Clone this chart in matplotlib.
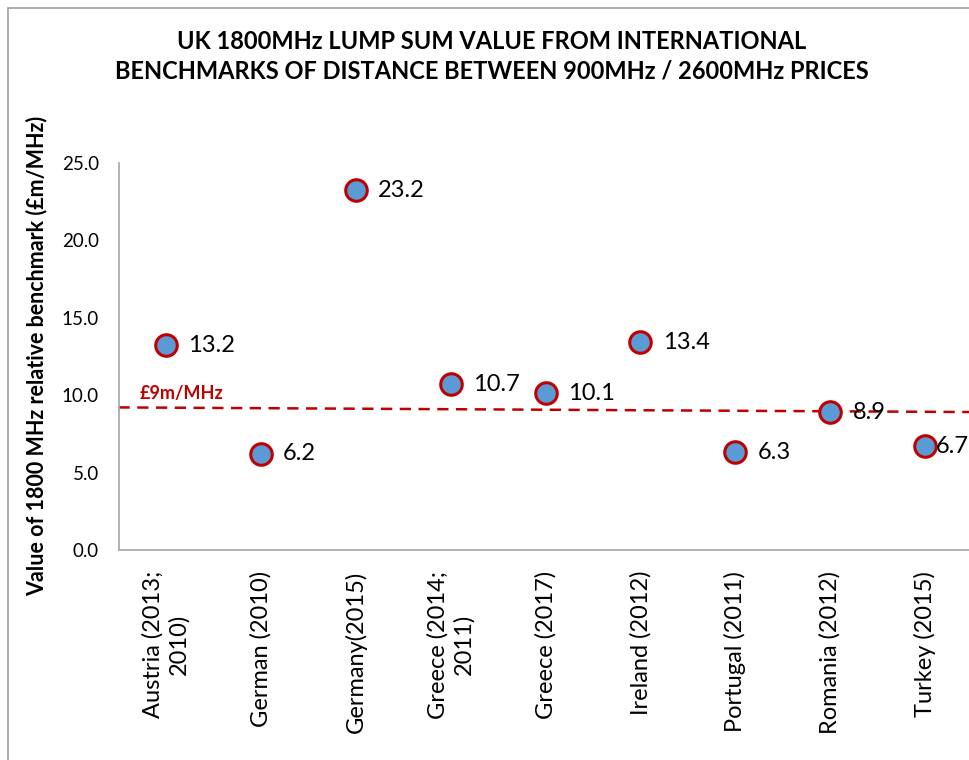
import matplotlib
matplotlib.use('Agg')
import matplotlib.pyplot as plt
from matplotlib.patches import Rectangle

# Dados do gráfico
categorias = ['Austria (2013;\n2010)', 'German (2010)', 'Germany(2015)', 'Greece (2014;\n2011)',
              'Greece (2017)', 'Ireland (2012)', 'Portugal (2011)', 'Romania (2012)', 'Turkey (2015)']
valores = [13.2, 6.2, 23.2, 10.7, 10.1, 13.4, 6.3, 8.9, 6.7]
linha_ref = [9.2, 8.9]          # linha tracejada, inicio e fim
rotulo_ref = '£9m/MHz'
titulo = 'UK 1800MHz LUMP SUM VALUE FROM INTERNATIONAL\nBENCHMARKS OF DISTANCE BETWEEN 900MHz / 2600MHz PRICES'
rotulo_y = 'Value of 1800 MHz relative benchmark (£m/MHz)'

plt.rcParams['font.family'] = ['Lato', 'DejaVu Sans']

W, H = 969, 760
fig = plt.figure(figsize=(W / 100, H / 100), dpi=100)

# moldura cinza do gráfico
fig.patches.append(Rectangle((8 / W, -0.1), 1.2, 1 - 8 / H + 0.1, transform=fig.transFigure,
                             fill=False, edgecolor='#A0A0A0', linewidth=1.2))

ax = fig.add_axes([118.5 / W, 1 - 550 / H, 854 / W, 387.5 / H])
ax.set_facecolor('none')

x = list(range(len(valores)))
ax.plot([-0.5, len(valores) - 0.5], linha_ref, color='#C00000', linestyle='--',
        linewidth=1.8, dashes=(4.5, 3), zorder=2)
ax.plot(x, valores, linestyle='none', marker='o', markersize=15.5,
        markerfacecolor='#5B9BD5', markeredgecolor='#C00000', markeredgewidth=2.2, zorder=3)

for i, v in enumerate(valores):
    off = 8 if i == len(valores) - 1 else 16
    ax.annotate(f'{v:.1f}', (i, v), xytext=(off, 0), textcoords='offset points',
                ha='left', va='center', fontsize=17, color='black', zorder=4)

ax.text(-0.28, 10.1, rotulo_ref, color='#C00000', fontsize=13, fontweight='bold',
        ha='left', va='center')

ax.set_xlim(-0.5, len(valores) - 0.5)
ax.set_ylim(0, 25)
ax.set_yticks([0, 5, 10, 15, 20, 25])
ax.set_yticklabels([f'{t:.1f}' for t in [0, 5, 10, 15, 20, 25]], fontsize=13.5)
ax.set_xticks(x)
ax.set_xticklabels(categorias, rotation=90, fontsize=17, ha='center', va='top',
                   multialignment='center', linespacing=1.25)
ax.tick_params(axis='both', length=0)
ax.tick_params(axis='y', pad=14)
ax.tick_params(axis='x', pad=15)

for s in ['top', 'right']:
    ax.spines[s].set_visible(False)
for s in ['left', 'bottom']:
    ax.spines[s].set_color('#A6A6A6')
    ax.spines[s].set_linewidth(1.2)

ax.set_ylabel(rotulo_y, fontsize=15.5, fontweight='bold', labelpad=10)

fig.text(492 / W, 1 - 56 / H, titulo, ha='center', va='center', fontsize=17,
         fontweight='bold', linespacing=1.35)

fig.savefig('out.png', dpi=100)
